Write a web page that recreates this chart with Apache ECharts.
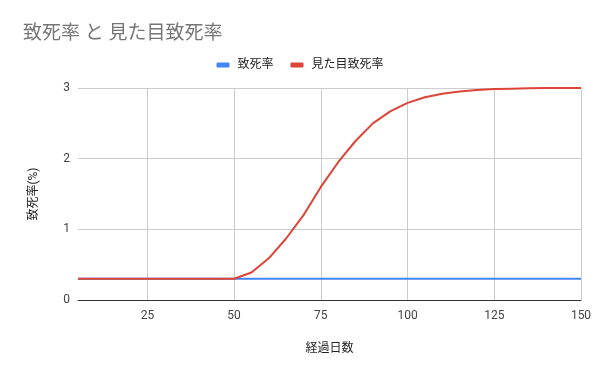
<!DOCTYPE html>
<html>
<head>
<meta charset="utf-8">
<script src="https://cdn.jsdelivr.net/npm/echarts@6/dist/echarts.min.js"></script>
<style>html,body{margin:0;padding:0;background:#fff}#c{width:600px;height:371px}</style>
</head>
<body>
<div id="c"></div>
<script>
const days = [5,10,15,20,25,30,35,40,45,50,55,60,65,70,75,80,85,90,95,100,105,110,115,120,125,130,135,140,145,150];
const fatality = [0.3,0.3,0.3,0.3,0.3,0.3,0.3,0.3,0.3,0.3,0.3,0.3,0.3,0.3,0.3,0.3,0.3,0.3,0.3,0.3,0.3,0.3,0.3,0.3,0.3,0.3,0.3,0.3,0.3,0.3];
const apparentFatality = [0.3,0.3,0.3,0.3,0.3,0.3,0.3,0.3,0.3,0.3,0.39,0.59,0.87,1.2,1.6,1.95,2.25,2.5,2.67,2.79,2.87,2.92,2.95,2.97,2.985,2.99,2.995,3.0,3.0,3.0];
const seriesNames = ['致死率','見た目致死率'];
const yTicks = [0,1,2,3];

const font = "Roboto, Arial, 'Noto Sans CJK JP', sans-serif";
const chart = echarts.init(document.getElementById('c'), null, {renderer:'canvas'});
const showTick = (i, v) => Number(v) % 25 === 0;
chart.setOption({
  animation: false,
  backgroundColor: '#fff',
  title: {
    text: '致死率 と 見た目致死率',
    left: 18, top: 20,
    textStyle: {fontFamily: font, fontSize: 19, fontWeight: 'normal', color: '#757575'}
  },
  legend: {
    data: seriesNames,
    top: 54, left: 'center',
    icon: 'roundRect', itemWidth: 13, itemHeight: 5, itemGap: 17,
    textStyle: {fontFamily: font, fontSize: 12, color: '#222', padding: [0, 0, 0, 3]}
  },
  grid: {left: 78, right: 19, top: 88, bottom: 71, containLabel: false},
  xAxis: {
    type: 'category',
    data: days,
    boundaryGap: false,
    name: '経過日数',
    nameLocation: 'middle',
    nameGap: 43,
    nameTextStyle: {fontFamily: font, fontSize: 12, color: '#222'},
    axisLine: {lineStyle: {color: '#333', width: 1}},
    axisTick: {show: false},
    axisLabel: {interval: showTick, fontFamily: font, fontSize: 12, color: '#444', margin: 10},
    splitLine: {show: true, interval: showTick, lineStyle: {color: '#ccc', width: 1}}
  },
  yAxis: {
    type: 'value',
    min: yTicks[0], max: yTicks[yTicks.length-1], interval: 1,
    name: '致死率(%)',
    nameLocation: 'middle',
    nameRotate: 90,
    nameGap: 38,
    nameTextStyle: {fontFamily: font, fontSize: 12, color: '#222'},
    axisLine: {show: false},
    axisTick: {show: false},
    axisLabel: {fontFamily: font, fontSize: 12, color: '#444', margin: 8},
    splitLine: {lineStyle: {color: '#ccc', width: 1}}
  },
  series: [
    {name: seriesNames[0], type: 'line', data: fatality, symbol: 'none', color: '#4285F4', lineStyle: {width: 2}},
    {name: seriesNames[1], type: 'line', data: apparentFatality, symbol: 'none', color: '#DB4437', lineStyle: {width: 2}}
  ]
});
</script>
</body>
</html>
